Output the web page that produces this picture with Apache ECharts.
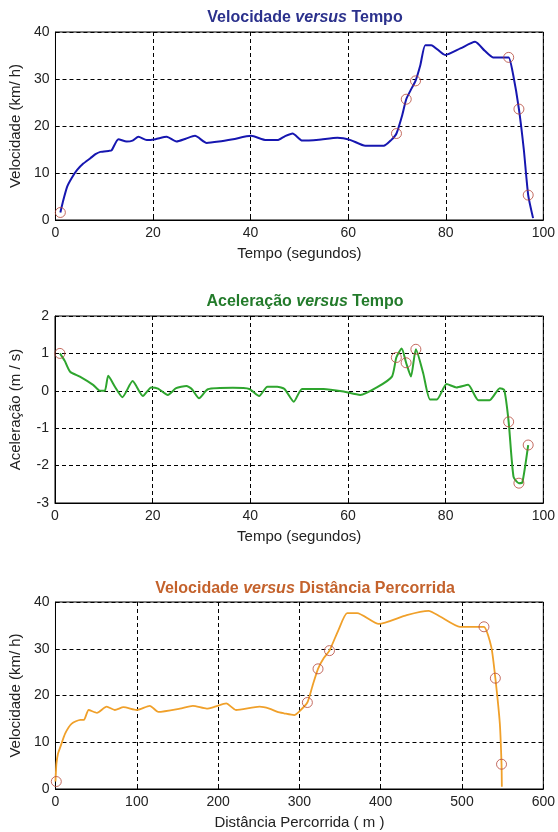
<!DOCTYPE html>
<html>
<head>
    <meta charset="utf-8">
    <script type="text/javascript" src="https://cdn.jsdelivr.net/npm/echarts@6/dist/echarts.min.js"></script>
</head>
<body style="margin: 0; background: #fff">
    <div id="container" style="height: 832px; width: 558px;"></div>
    <script type="text/javascript">
    // painel 1: velocidade x tempo
    var tempoV = [1, 1.5, 2.4, 3.3, 4.4, 5.7, 7.1, 8.2, 9.2, 10.9, 11.5, 12.9, 14.6, 15.8, 17, 18.7, 20.5, 22.8, 24.8, 26.7, 28.6, 31, 33.5, 36.4, 40.1, 43.2, 45.5, 47, 48.6, 50.6, 54, 57.8, 60.5, 63.5, 67.3, 68.8, 69.9, 71, 71.9, 73, 73.8, 74.8, 75.8, 77, 79.9, 83, 86, 88, 89.7, 92, 92.9, 93.8, 95, 96, 96.9, 97.9];
    var velocidade = [1.6, 3.8, 7.1, 8.9, 10.6, 12, 13.1, 14, 14.5, 14.7, 14.8, 17.2, 16.7, 16.9, 17.7, 17.0, 17.2, 17.7, 16.7, 17.3, 17.9, 16.4, 16.7, 17.2, 17.9, 17.0, 17.0, 17.8, 18.4, 16.9, 17.1, 17.5, 17.0, 15.8, 15.8, 17, 18.4, 22, 25.7, 28, 29.6, 33, 37.2, 37.2, 35.1, 36.5, 37.9, 36, 34.6, 34.6, 34.6, 31, 23.6, 15, 5.3, 0.4];
    var marcasV = [[1, 1.6], [69.9, 18.4], [71.9, 25.7], [73.8, 29.6], [92.9, 34.6], [95, 23.6], [96.9, 5.3]];

    // painel 2: aceleracao x tempo
    var tempoA = [1, 2, 3.1, 5.1, 7.8, 9.2, 10.2, 10.9, 12.3, 13.8, 15.9, 18, 19.7, 21.1, 23.1, 24.8, 26.9, 28, 29.5, 31.3, 36.4, 39.8, 41.8, 43.5, 45.5, 47, 48.9, 50.6, 55, 59.1, 62.5, 65.9, 69, 69.9, 71, 71.9, 72.9, 73.9, 75.4, 76.8, 78.2, 80.2, 82.2, 84.6, 86.7, 89, 91.1, 92, 92.9, 93.9, 95, 95.7, 96.9];
    var aceleracao = [1.0, 0.8, 0.51, 0.38, 0.16, 0, 0, 0.4, 0.1, -0.17, 0.26, -0.14, 0.09, 0.06, -0.11, 0.07, 0.13, 0.05, -0.2, 0.04, 0.08, 0.05, -0.14, 0.11, 0.11, 0.05, -0.29, 0.05, 0.05, -0.02, -0.11, 0.09, 0.38, 0.89, 1.13, 0.75, 0.38, 1.11, 0.47, -0.23, -0.23, 0.18, 0.09, 0.16, -0.25, -0.25, 0.07, 0.02, -0.83, -2.3, -2.47, -2.45, -1.45];
    var marcasA = [[1, 1.0], [69.9, 0.89], [71.9, 0.75], [73.9, 1.11], [92.9, -0.83], [95, -2.47], [96.9, -1.45]];

    // painel 3: velocidade x distancia
    var distancia = [0, 0.5, 1.2, 3, 6, 12, 20, 30.6, 35, 40.8, 51, 63, 73, 83.6, 100, 116, 126.5, 153, 169, 186, 196, 210, 222, 251, 263, 273, 281, 293.5, 301.6, 309.8, 316, 322.9, 330, 337, 348, 358.8, 371, 397.6, 432, 458.8, 473, 497.5, 518, 527, 536, 541, 546.5, 548.6, 549];
    var velDist = [1.6, 3.5, 5.5, 7.5, 9, 11.9, 14, 14.8, 14.8, 16.9, 16.3, 17.6, 16.9, 17.5, 16.9, 17.8, 16.5, 17.2, 17.8, 17.2, 17.6, 18.3, 16.9, 17.6, 17.2, 16.5, 16.2, 15.8, 16.9, 18.5, 22, 25.7, 28, 29.6, 34, 37.6, 37.6, 35.3, 37.2, 38.1, 36.9, 34.7, 34.7, 34.7, 30.4, 23.7, 14, 5.3, 0.5];
    var marcasD = [[1, 1.6], [309.8, 18.5], [322.9, 25.7], [337, 29.6], [527, 34.7], [541, 23.7], [548.6, 5.3]];

    function pares(xs, ys) {
        var out = [];
        for (var i = 0; i < xs.length; i++) out.push([xs[i], ys[i]]);
        return out;
    }

    var fonte = 'Liberation Sans, Arial, sans-serif';

    function titulo(texto, top, cor) {
        return {
            text: texto,
            left: 300,
            top: top,
            textAlign: 'center',
            textStyle: {
                fontFamily: fonte, fontSize: 16, fontWeight: 'bold', color: cor,
                rich: { i: { fontFamily: fonte, fontSize: 16, fontWeight: 'bold', fontStyle: 'italic', color: cor } }
            }
        };
    }

    function eixo(idx, min, max, interval, nome, gap) {
        return {
            type: 'value', gridIndex: idx, min: min, max: max, interval: interval,
            name: nome, nameLocation: 'middle', nameGap: gap,
            nameTextStyle: { fontFamily: fonte, fontSize: 15, color: '#222' },
            axisLine: { show: true, onZero: false, lineStyle: { color: '#000' } },
            axisTick: { show: true, inside: true, length: 4, lineStyle: { color: '#000' } },
            axisLabel: { fontFamily: fonte, fontSize: 14, color: '#222', margin: 6 },
            splitLine: { show: true, lineStyle: { color: '#000', type: [4, 3], width: 1 } }
        };
    }

    var grade = { show: true, borderColor: '#000', borderWidth: 1, backgroundColor: '#fff', left: 55, right: 13 };
    var circulo = { type: 'scatter', symbol: 'circle', symbolSize: 10, z: 5,
        itemStyle: { color: 'rgba(255,255,255,0)', borderColor: '#b5473a', borderWidth: 1 } };

    var dom = document.getElementById('container');
    var myChart = echarts.init(dom);
    var option = {
        animation: false,
        backgroundColor: '#fff',
        title: [
            titulo('Velocidade {i|versus} Tempo', 5, '#2b318c'),
            titulo('Aceleração {i|versus} Tempo', 289, '#237b2b'),
            titulo('Velocidade {i|versus} Distância Percorrida', 576, '#c4622c')
        ],
        grid: [
            Object.assign({ top: 32, height: 188 }, grade),
            Object.assign({ top: 316, height: 187 }, grade),
            Object.assign({ top: 602, height: 187 }, grade)
        ],
        xAxis: [
            eixo(0, 0, 100, 20, 'Tempo (segundos)', 26),
            eixo(1, 0, 100, 20, 'Tempo (segundos)', 26),
            eixo(2, 0, 600, 100, 'Distância Percorrida ( m )', 26)
        ],
        yAxis: [
            eixo(0, 0, 40, 10, 'Velocidade (km/ h)', 32),
            eixo(1, -3, 2, 1, 'Aceleração (m / s)', 32),
            eixo(2, 0, 40, 10, 'Velocidade (km/ h)', 32)
        ],
        series: [{
            type: 'line', xAxisIndex: 0, yAxisIndex: 0, data: pares(tempoV, velocidade),
            showSymbol: false, smooth: 0.2, lineStyle: { color: '#1616b0', width: 2 }
        }, Object.assign({ xAxisIndex: 0, yAxisIndex: 0, data: marcasV }, circulo), {
            type: 'line', xAxisIndex: 1, yAxisIndex: 1, data: pares(tempoA, aceleracao),
            showSymbol: false, smooth: 0.2, lineStyle: { color: '#2ea52e', width: 2 }
        }, Object.assign({ xAxisIndex: 1, yAxisIndex: 1, data: marcasA }, circulo), {
            type: 'line', xAxisIndex: 2, yAxisIndex: 2, data: pares(distancia, velDist),
            showSymbol: false, smooth: 0.2, lineStyle: { color: '#f0a02a', width: 1.8 }
        }, Object.assign({ xAxisIndex: 2, yAxisIndex: 2, data: marcasD }, circulo)]
    };
    myChart.setOption(option);
    </script>
</body>
</html>
